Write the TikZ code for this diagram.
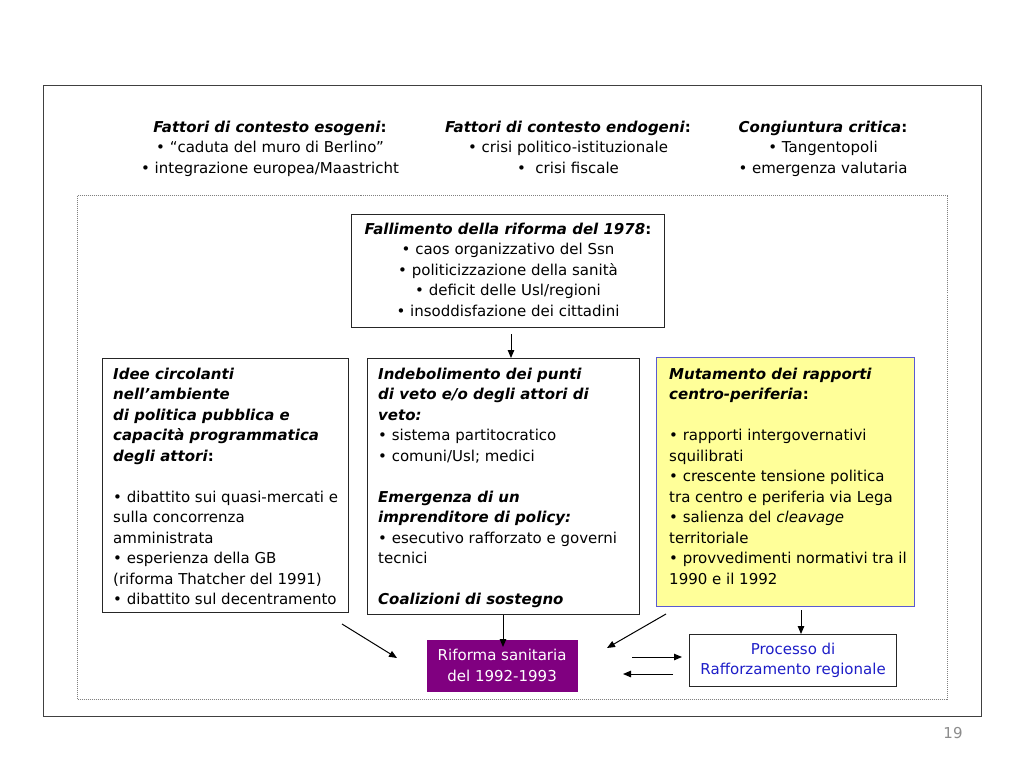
\documentclass[tikz,border=0pt]{standalone}
\usepackage{fontspec}
\setmainfont{DejaVu Sans}
\usetikzlibrary{arrows.meta}
\definecolor{yel}{RGB}{255,255,153}
\definecolor{yelborder}{RGB}{90,90,210}
\definecolor{purp}{RGB}{128,0,128}
\definecolor{procblue}{RGB}{30,30,200}
\begin{document}
\begin{tikzpicture}[x=1pt,y=-1pt,
  every node/.style={font=\fontsize{15}{20.5}\selectfont},
  frame/.style={draw=black!75, line width=1.2pt, anchor=north west, inner sep=0pt},
  dotframe/.style={draw=black!50, line width=1pt, densely dotted, anchor=north west, inner sep=0pt},
  box/.style={draw=black!85, line width=1.2pt, anchor=north west, inner sep=0pt},
  txt/.style={anchor=base west, inner sep=0pt, align=left},
  ctxt/.style={anchor=base, inner sep=0pt, align=center},
  arr/.style={-{Triangle[length=8pt,width=6.5pt]}, line width=1pt}]
\useasboundingbox (0,0) rectangle (1024,768);
\fill[white] (0,0) rectangle (1024,768);
\node[frame, minimum width=938, minimum height=631] (outer) at (43,85) {};
\node[dotframe, minimum width=870, minimum height=504] (inner) at (77,195) {};
% top texts (anchor base = last line baseline)
\node[ctxt] (exo) at (270,173) {\textbf{\textit{Fattori di contesto esogeni}:}\\ • “caduta del muro di Berlino”\\ • integrazione europea/Maastricht};
\node[ctxt] (endo) at (568,173) {\textbf{\textit{Fattori di contesto endogeni}:}\\ • crisi politico-istituzionale\\ •\ \ crisi fiscale};
\node[ctxt] (cong) at (823,173) {\textbf{\textit{Congiuntura critica}:}\\ • Tangentopoli\\ • emergenza valutaria};
% center box
\node[box, minimum width=313, minimum height=113] (fall) at (351,214) {};
\node[ctxt] (fallt) at (508,316) {\textbf{\textit{Fallimento della riforma del 1978}:}\\ • caos organizzativo del Ssn\\ • politicizzazione della sanità\\ • deficit delle Usl/regioni\\ • insoddisfazione dei cittadini};
% left box
\node[box, minimum width=246, minimum height=254] (idee) at (102,358) {};
\node[txt] (ideet) at (113,604.5) {\textbf{\textit{Idee circolanti}}\\ \textbf{\textit{nell’ambiente}}\\ \textbf{\textit{di politica pubblica e}}\\ \textbf{\textit{capacità programmatica}}\\ \textbf{\textit{degli attori}:}\\[20.5pt] • dibattito sui quasi-mercati e\\ sulla concorrenza\\ amministrata\\ • esperienza della GB\\ (riforma Thatcher del 1991)\\ • dibattito sul decentramento};
% middle box
\node[box, minimum width=272, minimum height=256] (indeb) at (367,358) {};
\node[txt] (indebt) at (378,604.5) {\textbf{\textit{Indebolimento dei punti}}\\ \textbf{\textit{di veto e/o degli attori di}}\\ \textbf{\textit{veto:}}\\ • sistema partitocratico\\ • comuni/Usl; medici\\[20.5pt] \textbf{\textit{Emergenza di un}}\\ \textbf{\textit{imprenditore di policy:}}\\ • esecutivo rafforzato e governi\\ tecnici\\[20.5pt] \textbf{\textit{Coalizioni di sostegno}}};
% right box
\node[box, draw=yelborder, fill=yel, minimum width=258, minimum height=249] (mut) at (656,357) {};
\node[txt] (mutt) at (669,584) {\textbf{\textit{Mutamento dei rapporti}}\\ \textbf{\textit{centro-periferia}:}\\[20.5pt] • rapporti intergovernativi\\ squilibrati\\ • crescente tensione politica\\ tra centro e periferia via Lega\\ • salienza del \textit{cleavage}\\ territoriale\\ • provvedimenti normativi tra il\\ 1990 e il 1992};
% bottom boxes
\node[box, draw=none, fill=purp, minimum width=151, minimum height=52, text=white, align=center] (rif) at (426,639) {Riforma sanitaria\\del 1992-1993};
\node[box, minimum width=207, minimum height=52, text=procblue, align=center, font=\fontsize{15}{19.5}\selectfont] (proc) at (689,634) {Processo di\\Rafforzamento regionale};
% page number
\node[text=black!45, inner sep=0pt] (pg) at (953,733) {19};
% arrows
\coordinate (vc) at (511,0);
\draw[arr, shorten <=6pt] (fall.south -| vc) -- (indeb.north -| vc);
\coordinate (vm) at (503,0);
\draw[arr, shorten >=-8pt] (indeb.south -| vm) -- (rif.north -| vm);
\coordinate (l1) at (342,624); \coordinate (l2) at (397,658);
\coordinate (r1) at (666,614); \coordinate (r2) at (607,648);
\draw[arr] (l1) -- (l2);
\draw[arr] (r1) -- (r2);
\coordinate (pv) at (801,0);
\draw[arr, shorten <=3pt] (mut.south -| pv) -- (proc.north -| pv);
\coordinate (h1) at (632,657); \coordinate (h2) at (682,657);
\coordinate (h3) at (673,674); \coordinate (h4) at (623,674);
\draw[arr] (h1) -- (h2);
\draw[arr] (h3) -- (h4);
\end{tikzpicture}
\end{document}
